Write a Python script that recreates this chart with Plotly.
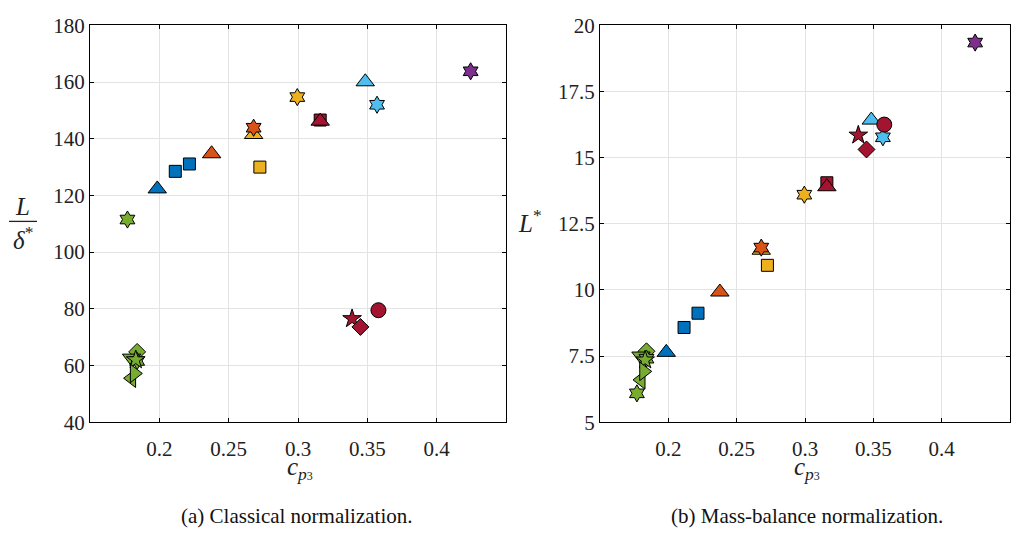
import plotly.graph_objects as go

# Case markers: colour, symbol, pressure coefficient and the two length normalizations
colors = ["#77AC30", "#77AC30", "#77AC30", "#77AC30", "#77AC30", "#77AC30", "#77AC30",
          "#0072BD", "#0072BD", "#0072BD", "#D95319", "#EDB120", "#D95319", "#EDB120",
          "#EDB120", "#A2142F", "#A2142F", "#4DBEEE", "#4DBEEE", "#A2142F", "#A2142F",
          "#A2142F", "#7E2F8E"]
symbols = ["hexagram", "diamond", "triangle-down", "hexagram", "star", "triangle-left",
           "triangle-right", "triangle-up", "square", "square", "triangle-up", "triangle-up",
           "hexagram", "square", "hexagram", "square", "triangle-up", "triangle-up",
           "hexagram", "circle", "star", "diamond", "hexagram"]
cp3 = [0.177, 0.184, 0.180, 0.184, 0.183, 0.180, 0.182,
       0.1985, 0.2115, 0.2217, 0.2377, 0.268, 0.268, 0.2725,
       0.2995, 0.316, 0.316, 0.3485, 0.357, 0.358, 0.339,
       0.345, 0.4245]
L_classical = [111.5, 64.8, 62.6, 61.6, 62.0, 55.5, 57.2,
               122.3, 128.5, 131.1, 134.7, 141.5, 143.9, 130.0,
               154.7, 146.6, 146.2, 160.1, 152.0, 79.5, 76.5,
               73.6, 163.8]
L_mass = [6.09, 7.68, 7.50, 7.40, 7.35, 6.60, 6.92,
          7.64, 8.58, 9.12, 9.92, 11.5, 11.6, 10.93,
          13.6, 14.05, 13.9, 16.42, 15.77, 16.25, 15.85,
          15.31, 19.35]

x_tickvals = [0.2, 0.25, 0.3, 0.35, 0.4]
x_ticktext = ["0.2", "0.25", "0.3", "0.35", "0.4"]
y1_tickvals = [40, 60, 80, 100, 120, 140, 160, 180]
y2_tickvals = [5, 7.5, 10, 12.5, 15, 17.5, 20]
y2_ticktext = ["5", "7.5", "10", "12.5", "15", "17.5", "20"]

size_by_symbol = {"circle": 15, "square": 12, "diamond": 13, "triangle-up": 16,
                  "triangle-down": 16, "triangle-left": 16, "triangle-right": 16,
                  "hexagram": 13, "star": 14}
sizes = [size_by_symbol[s] for s in symbols]

W, H = 1014, 547
SERIF = "Liberation Serif, Times New Roman, serif"


def px_x(p):
    return p / W


def px_y(p):
    return 1 - p / H


fig = go.Figure()
marker = dict(color=colors, symbol=symbols, size=sizes,
              line=dict(color="black", width=1), opacity=1)
fig.add_trace(go.Scatter(x=cp3, y=L_classical, mode="markers", marker=marker,
                         xaxis="x", yaxis="y", showlegend=False))
fig.add_trace(go.Scatter(x=cp3, y=L_mass, mode="markers", marker=marker,
                         xaxis="x2", yaxis="y2", showlegend=False))

axis_common = dict(showline=True, linecolor="black", linewidth=1, mirror="ticks",
                   ticks="inside", ticklen=4, tickcolor="black", showgrid=True,
                   gridcolor="#e3e3e3", gridwidth=1, zeroline=False,
                   tickfont=dict(family=SERIF, size=21, color="#222"))
xaxis_extra = dict(ticklabelstandoff=8)

ydom = [px_y(429), px_y(14)]
fig.update_layout(
    width=W, height=H, margin=dict(l=0, r=0, t=0, b=0),
    paper_bgcolor="white", plot_bgcolor="white",
    xaxis=dict(domain=[px_x(90), px_x(506)], range=[0.15, 0.45], anchor="y",
               tickvals=x_tickvals, ticktext=x_ticktext, **axis_common, **xaxis_extra),
    yaxis=dict(domain=ydom, range=[40, 180], anchor="x", tickvals=y1_tickvals,
               **axis_common),
    xaxis2=dict(domain=[px_x(600), px_x(1010)], range=[0.15, 0.45], anchor="y2",
                tickvals=x_tickvals, ticktext=x_ticktext, **axis_common, **xaxis_extra),
    yaxis2=dict(domain=ydom, range=[5, 20], anchor="x2", tickvals=y2_tickvals,
                ticktext=y2_ticktext, **axis_common),
)

label_font = dict(family=SERIF, size=25, color="#222")
cp_label = "<i>c</i><sub><i>p</i><span style='font-size:12px'>3</span></sub>"
for xc in (300, 807):
    fig.add_annotation(x=px_x(xc), y=px_y(459), xref="paper", yref="paper",
                       text=cp_label, showarrow=False, font=label_font,
                       xanchor="center", yanchor="top")

# Fraction L / delta* on the left panel
fig.add_annotation(x=px_x(22), y=px_y(203), xref="paper", yref="paper",
                   text="<i>L</i>", showarrow=False, font=label_font,
                   xanchor="center", yanchor="middle")
fig.add_annotation(x=px_x(23), y=px_y(236), xref="paper", yref="paper",
                   text="<i>δ</i><sup>*</sup>", showarrow=False, font=label_font,
                   xanchor="center", yanchor="middle")
fig.add_shape(type="line", xref="paper", yref="paper",
              x0=px_x(9), x1=px_x(37), y0=px_y(219), y1=px_y(219),
              line=dict(color="#222", width=1.3))

fig.add_annotation(x=px_x(530), y=px_y(219), xref="paper", yref="paper",
                   text="<i>L</i><sup>*</sup>", showarrow=False, font=label_font,
                   xanchor="center", yanchor="middle")

cap_font = dict(family=SERIF, size=21, color="#111")
fig.add_annotation(x=px_x(297), y=px_y(527), xref="paper", yref="paper",
                   text="(a) Classical normalization.", showarrow=False,
                   font=cap_font, xanchor="center", yanchor="middle")
fig.add_annotation(x=px_x(807), y=px_y(527), xref="paper", yref="paper",
                   text="(b) Mass-balance normalization.", showarrow=False,
                   font=cap_font, xanchor="center", yanchor="middle")

fig.write_html("out.html")
